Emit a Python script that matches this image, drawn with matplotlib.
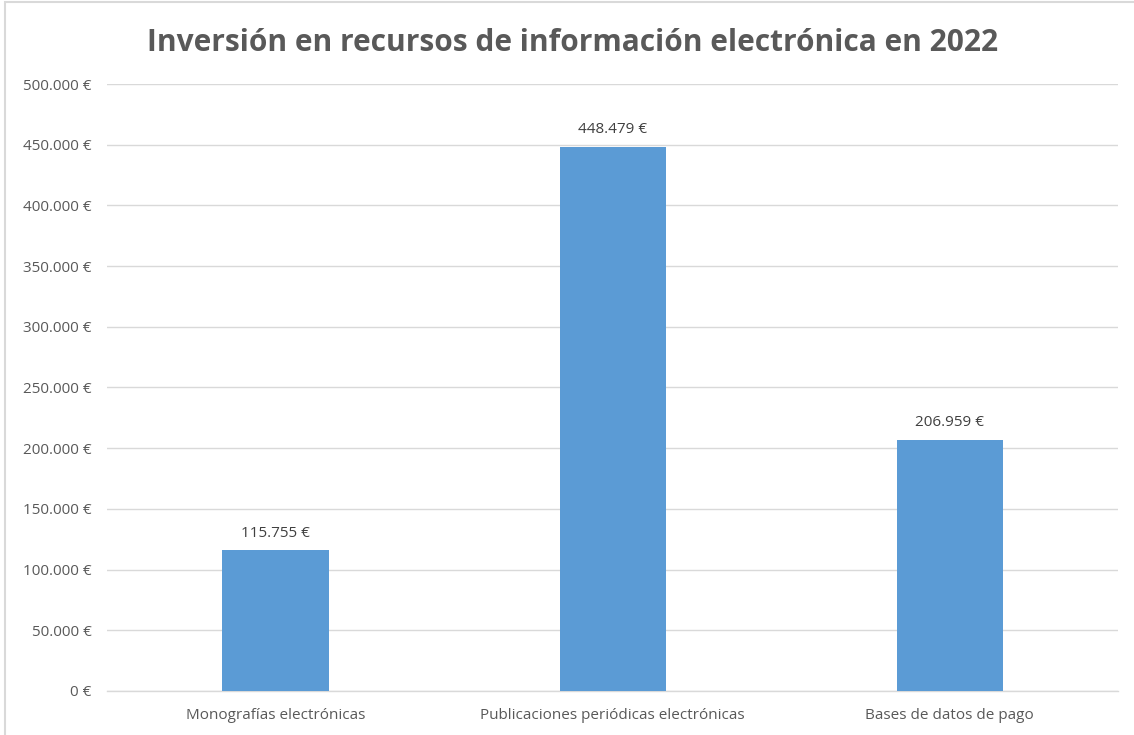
import matplotlib.pyplot as plt
from matplotlib.patches import Rectangle
from matplotlib.ticker import FuncFormatter, MultipleLocator

categories = ['Monografías electrónicas', 'Publicaciones periódicas electrónicas', 'Bases de datos de pago']
values = [115755, 448479, 206959]

TEXT = '#595959'
GRID = '#d9d9d9'
BAR = '#5b9bd5'

plt.rcParams['font.family'] = ['Open Sans', 'DejaVu Sans']


def euros(v, pos=None):
    return f'{int(round(v)):,} €'.replace(',', '.')


fig = plt.figure(figsize=(11.34, 7.35), dpi=100)
ax = fig.add_axes([0.0944, 0.0599, 0.8916, 0.8258])

x = range(len(categories))
ax.bar(x, values, width=0.315, color=BAR, zorder=3)
for xi, v in zip(x, values):
    ax.annotate(euros(v), (xi, v), xytext=(0, 7), textcoords='offset points',
                ha='center', va='bottom', fontsize=11, color='#404040')

ax.set_xlim(-0.5, len(categories) - 0.5)
ax.set_ylim(0, 500000)
ax.yaxis.set_major_locator(MultipleLocator(50000))
ax.yaxis.set_major_formatter(FuncFormatter(euros))
ax.set_xticks(list(x))
ax.set_xticklabels(categories)
ax.tick_params(axis='both', length=0, labelsize=11, labelcolor=TEXT)
ax.tick_params(axis='y', pad=11)
ax.tick_params(axis='x', pad=12)
ax.grid(axis='y', color=GRID, linewidth=1, zorder=0)
ax.axhline(0, color=GRID, linewidth=1, zorder=1, clip_on=False)
for s in ax.spines.values():
    s.set_visible(False)

fig.text(0.505, 0.942, 'Inversión en recursos de información electrónica en 2022',
         ha='center', va='center', fontsize=21.5, fontweight='bold', color=TEXT)

# light frame of the chart area (only left and top fall inside the image)
fig.patches.append(Rectangle((0.0045, -0.01), 1.2, 1.007, transform=fig.transFigure,
                             fill=False, edgecolor=GRID, linewidth=1.5))

fig.savefig('out.png', dpi=100)
